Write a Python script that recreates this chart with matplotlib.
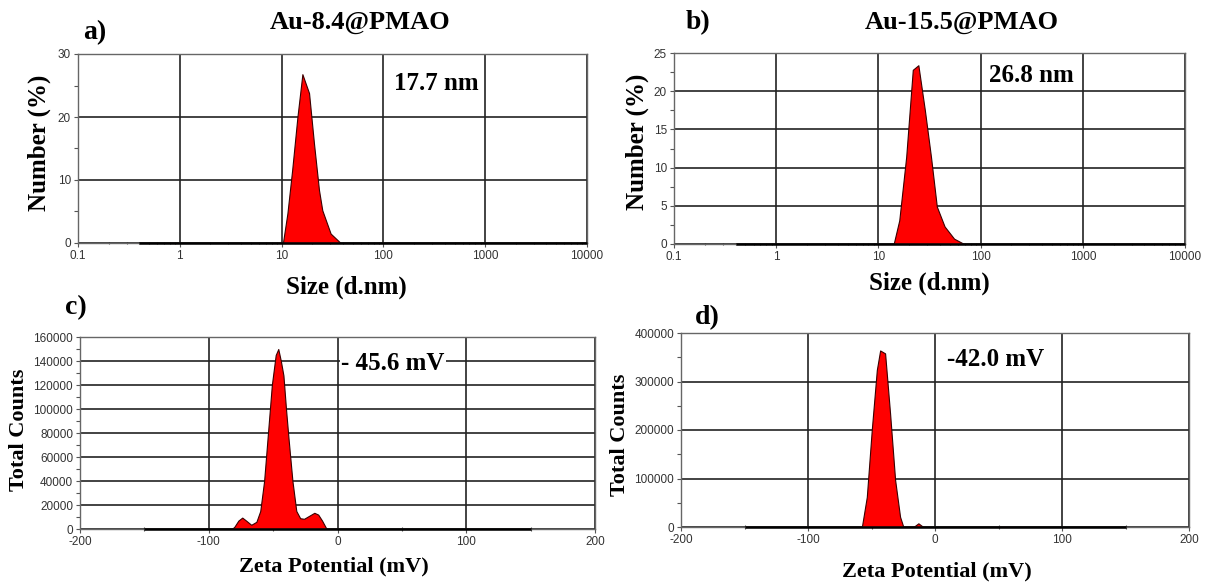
import matplotlib.pyplot as plt
from matplotlib.ticker import MultipleLocator, LogLocator, NullFormatter

plt.rcParams['font.family'] = 'Liberation Serif'
plt.rcParams['axes.unicode_minus'] = False

# a) Au-8.4@PMAO - size distribution by number
size_a = [0.4, 10.0, 10.3, 11.4, 12.7, 14.3, 16.0, 18.6, 20.8, 23.3, 25.1, 30.3, 38.0, 10000]
num_a = [0, 0, 0, 4.7, 11.6, 20.0, 26.8, 23.8, 15.8, 8.4, 5.2, 1.5, 0, 0]

# b) Au-15.5@PMAO - size distribution by number
size_b = [0.4, 14.1, 16.0, 18.7, 21.7, 24.6, 28.5, 32.7, 37.3, 44.4, 55.0, 69.0, 10000]
num_b = [0, 0, 3.1, 11.4, 22.8, 23.4, 17.5, 11.4, 4.9, 2.3, 0.7, 0, 0]

# c) zeta potential, Au-8.4@PMAO
zeta_c = [-150, -82, -80, -77, -74, -71, -67, -63, -60, -57, -54, -51, -48, -46,
          -44, -42, -40, -38, -35, -32, -29, -26, -22, -18, -15, -12, -9, -8, 150]
counts_c = [0, 0, 2000, 7000, 9500, 7000, 3500, 6000, 15000, 40000, 80000, 120000,
            145000, 150000, 140000, 128000, 100000, 75000, 40000, 15000, 9000, 8500,
            11000, 13500, 12000, 7000, 1000, 0, 0]

# d) zeta potential, Au-15.5@PMAO
zeta_d = [-150, -57.6, -53.7, -49.8, -45.8, -43.2, -39.3, -35.4, -31.4, -27.5, -24.9,
          -17, -13.1, -9.2, 150]
counts_d = [0, 0, 62000, 200000, 324000, 364000, 358000, 235000, 97000, 21000, 0,
            0, 7600, 0, 0]

size_ticks = [0.1, 1, 10, 100, 1000, 10000]
size_ticklabels = ['0.1', '1', '10', '100', '1000', '10000']

W, H = 1212, 584
fig = plt.figure(figsize=(W / 100, H / 100), dpi=100)


def px_rect(x0, x1, y0, y1):
    # pixel box (top-left origin) -> figure fraction
    return [x0 / W, 1 - y1 / H, (x1 - x0) / W, (y1 - y0) / H]


def style(ax):
    ax.set_axisbelow(True)
    ax.grid(True, which='major', color='#222222', lw=1.2)
    for s in ax.spines.values():
        s.set_color('#666666')
        s.set_linewidth(1.0)
    ax.tick_params(which='both', labelsize=8.5, labelcolor='#333333',
                   color='#555555', width=0.8, pad=2)
    ax.tick_params(which='major', length=3, direction='out')
    ax.tick_params(which='minor', length=3, direction='out')
    for lab in ax.get_xticklabels() + ax.get_yticklabels():
        lab.set_family('Liberation Sans')


def draw(ax, x, y):
    ax.fill_between(x, y, 0, color='#ff0000', edgecolor='#3a0000', lw=0.8, zorder=2)
    ax.hlines(0, x[0], x[-1], color='black', lw=1.8, zorder=3, clip_on=False)


# --- a ---
ax = fig.add_axes(px_rect(78, 587, 54, 243))
draw(ax, size_a, num_a)
ax.set_xscale('log')
ax.set_xlim(0.1, 10000)
ax.set_ylim(0, 30)
ax.set_xticks(size_ticks, size_ticklabels)
ax.xaxis.set_minor_locator(LogLocator(subs=range(2, 10)))
ax.xaxis.set_minor_formatter(NullFormatter())
ax.yaxis.set_major_locator(MultipleLocator(10))
ax.yaxis.set_minor_locator(MultipleLocator(5))
style(ax)
ax.tick_params(axis='x', which='minor', length=2, direction='inout')

# --- b ---
ax = fig.add_axes(px_rect(674, 1185, 53, 244))
draw(ax, size_b, num_b)
ax.set_xscale('log')
ax.set_xlim(0.1, 10000)
ax.set_ylim(0, 25)
ax.set_xticks(size_ticks, size_ticklabels)
ax.xaxis.set_minor_locator(LogLocator(subs=range(2, 10)))
ax.xaxis.set_minor_formatter(NullFormatter())
ax.yaxis.set_major_locator(MultipleLocator(5))
ax.yaxis.set_minor_locator(MultipleLocator(2.5))
style(ax)
ax.tick_params(axis='x', which='minor', length=2, direction='inout')

# --- c ---
ax = fig.add_axes(px_rect(80, 595, 337, 529))
draw(ax, zeta_c, counts_c)
ax.set_xlim(-200, 200)
ax.set_ylim(0, 160000)
ax.xaxis.set_major_locator(MultipleLocator(100))
ax.xaxis.set_minor_locator(MultipleLocator(50))
ax.yaxis.set_major_locator(MultipleLocator(20000))
ax.yaxis.set_minor_locator(MultipleLocator(10000))
style(ax)
ax.tick_params(axis='x', which='minor', length=3, direction='inout')

# --- d ---
ax = fig.add_axes(px_rect(681, 1189, 333, 527))
draw(ax, zeta_d, counts_d)
ax.set_xlim(-200, 200)
ax.set_ylim(0, 400000)
ax.xaxis.set_major_locator(MultipleLocator(100))
ax.xaxis.set_minor_locator(MultipleLocator(50))
ax.yaxis.set_major_locator(MultipleLocator(100000))
ax.yaxis.set_minor_locator(MultipleLocator(50000))
style(ax)
ax.tick_params(axis='x', which='minor', length=3, direction='inout')


def ftext(x, y, s, size, **kw):
    fig.text(x / W, 1 - y / H, s, fontsize=size, fontweight='bold',
             ha='center', va='center', **kw)


# panel letters and titles
ftext(95, 33, 'a)', 20)
ftext(698, 23, 'b)', 20)
ftext(76, 308, 'c)', 20)
ftext(707, 318, 'd)', 20)
ftext(360, 22, 'Au-8.4@PMAO', 19)
ftext(962, 22, 'Au-15.5@PMAO', 19)

# values inside plots
ftext(436, 83, '17.7 nm', 18)
ftext(1031, 76, '26.8 nm', 18)
ftext(393, 363, '- 45.6 mV', 18,
      bbox=dict(facecolor='white', edgecolor='none', pad=1))
ftext(996, 360, '-42.0 mV', 18)

# axis labels
ftext(39, 143, 'Number (%)', 18, rotation=90)
ftext(637, 142, 'Number (%)', 18, rotation=90)
ftext(346, 287, 'Size (d.nm)', 18)
ftext(929, 283, 'Size (d.nm)', 18)
ftext(19, 430, 'Total Counts', 16, rotation=90)
ftext(620, 435, 'Total Counts', 16, rotation=90)
ftext(334, 566, 'Zeta Potential (mV)', 16)
ftext(937, 571, 'Zeta Potential (mV)', 16)

fig.savefig('out.png', dpi=100)
